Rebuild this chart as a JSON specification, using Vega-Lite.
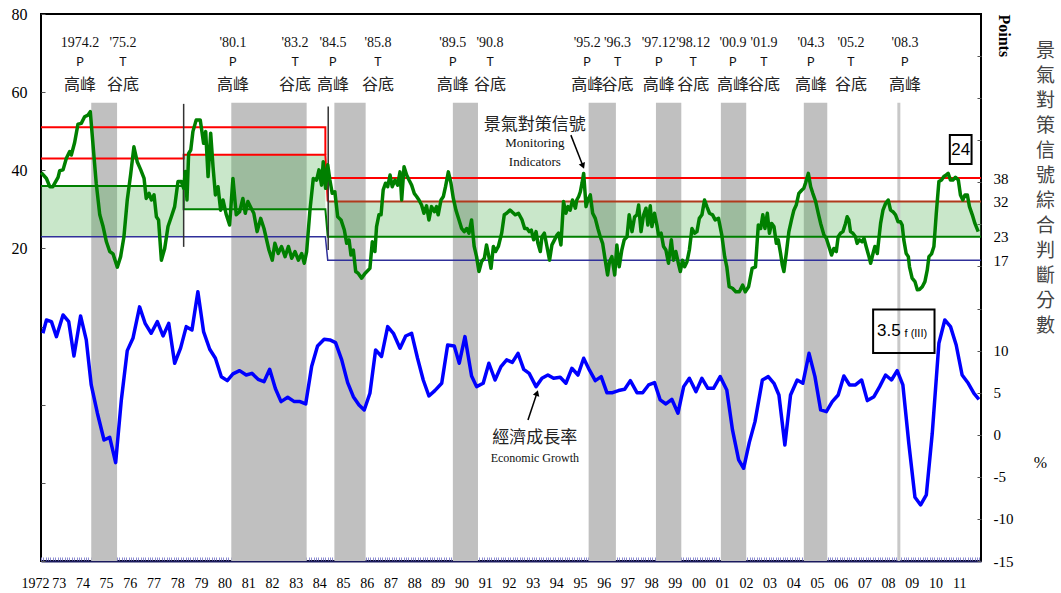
{
"$schema":"https://vega.github.io/schema/vega-lite/v6.json",
"width":940,"height":547,"autosize":"none",
"padding":{"left":41,"top":14,"right":80,"bottom":32},
"background":"#ffffff",
"config":{"view":{"stroke":"#000000","strokeWidth":2},"axis":{"grid":false,"labelFont":"Liberation Serif","labelColor":"#000000","titleFont":"Liberation Serif","titleColor":"#000000","labelOverlap":false}},
"datasets":{
"bands":[{"t":1974.12,"t2":1975.21},{"t":1980.03,"t2":1983.21},{"t":1984.38,"t2":1985.70},{"t":1989.38,"t2":1990.44},{"t":1995.11,"t2":1996.26},{"t":1997.95,"t2":1999.02},{"t":2000.69,"t2":2001.76},{"t":2004.19,"t2":2005.18}],
"marks08":[{"t":2008.2}],
"zones":[{"t":1972,"t2":1978.02,"lo":23,"hi":36},{"t":1978.02,"t2":1984.0,"lo":30,"hi":44},{"t":1984.1,"t2":2011.667,"lo":23,"hi":32}],
"thresholds":[
{"s":"r1","i":0,"t":1972,"v":51},{"s":"r1","i":1,"t":1984.0,"v":51},{"s":"r1","i":2,"t":1984.0,"v":44},
{"s":"r2","i":0,"t":1972,"v":43},{"s":"r2","i":1,"t":1978.02,"v":43},{"s":"r2","i":2,"t":1978.02,"v":44},{"s":"r2","i":3,"t":1984.0,"v":44},{"s":"r2","i":4,"t":1984.1,"v":32},
{"s":"br","i":0,"t":1984.1,"v":32},{"s":"br","i":1,"t":2011.667,"v":32},
{"s":"r3","i":0,"t":1984.2,"v":38},{"s":"r3","i":1,"t":2011.667,"v":38},
{"s":"gr","i":0,"t":1972,"v":36},{"s":"gr","i":1,"t":1978.02,"v":36},{"s":"gr","i":2,"t":1978.02,"v":30},{"s":"gr","i":3,"t":1984.0,"v":30},{"s":"gr","i":4,"t":1984.1,"v":23},{"s":"gr","i":5,"t":2011.667,"v":23},
{"s":"bl","i":0,"t":1972,"v":23},{"s":"bl","i":1,"t":1984.0,"v":23},{"s":"bl","i":2,"t":1984.1,"v":17},{"s":"bl","i":3,"t":2011.667,"v":17}],
"splits":[{"t":1978.02,"top":57,"bot":20.4},{"t":1984.12,"top":56.3,"bot":19.6}],
"signal":[
{"t":1972.01,"v":39.4},{"t":1972.23,"v":37.9},{"t":1972.37,"v":35.8},{"t":1972.5,"v":35.8},{"t":1972.72,"v":38.2},{"t":1972.79,"v":39.9},{"t":1972.93,"v":40.1},{"t":1973.07,"v":43.1},{"t":1973.21,"v":44.8},{"t":1973.28,"v":43.9},{"t":1973.42,"v":47.1},{"t":1973.56,"v":51.8},{"t":1973.7,"v":52.0},{"t":1973.84,"v":53.7},{"t":1973.98,"v":54.1},{"t":1974.08,"v":55.0},{"t":1974.19,"v":46.9},{"t":1974.33,"v":36.7},{"t":1974.48,"v":28.6},{"t":1974.62,"v":25.6},{"t":1974.76,"v":21.7},{"t":1974.9,"v":19.2},{"t":1975.04,"v":18.6},{"t":1975.22,"v":15.2},{"t":1975.36,"v":17.9},{"t":1975.5,"v":23.0},{"t":1975.64,"v":32.4},{"t":1975.78,"v":38.8},{"t":1975.92,"v":46.0},{"t":1976.06,"v":42.2},{"t":1976.21,"v":40.1},{"t":1976.35,"v":37.9},{"t":1976.44,"v":32.8},{"t":1976.56,"v":34.1},{"t":1976.66,"v":32.4},{"t":1976.77,"v":33.7},{"t":1976.87,"v":28.1},{"t":1976.96,"v":27.3},{"t":1977.08,"v":17.0},{"t":1977.22,"v":20.0},{"t":1977.36,"v":25.6},{"t":1977.5,"v":28.1},{"t":1977.64,"v":30.7},{"t":1977.78,"v":37.1},{"t":1977.92,"v":37.1},{"t":1978.02,"v":35.4},{"t":1978.09,"v":39.7},{"t":1978.16,"v":32.4},{"t":1978.23,"v":44.3},{"t":1978.32,"v":45.2},{"t":1978.41,"v":49.9},{"t":1978.55,"v":52.9},{"t":1978.72,"v":52.9},{"t":1978.79,"v":49.9},{"t":1978.86,"v":46.9},{"t":1978.95,"v":49.9},{"t":1979.05,"v":38.4},{"t":1979.16,"v":49.5},{"t":1979.26,"v":40.9},{"t":1979.36,"v":33.7},{"t":1979.47,"v":35.8},{"t":1979.58,"v":29.8},{"t":1979.68,"v":32.4},{"t":1979.82,"v":28.6},{"t":1979.96,"v":26.0},{"t":1980.1,"v":37.9},{"t":1980.24,"v":28.6},{"t":1980.38,"v":29.4},{"t":1980.52,"v":32.8},{"t":1980.62,"v":29.0},{"t":1980.73,"v":32.0},{"t":1980.87,"v":30.3},{"t":1980.98,"v":29.0},{"t":1981.12,"v":24.3},{"t":1981.27,"v":27.7},{"t":1981.41,"v":25.1},{"t":1981.62,"v":19.6},{"t":1981.76,"v":17.0},{"t":1981.87,"v":21.3},{"t":1982.01,"v":18.7},{"t":1982.15,"v":20.5},{"t":1982.3,"v":17.9},{"t":1982.44,"v":20.5},{"t":1982.58,"v":17.5},{"t":1982.72,"v":19.2},{"t":1982.86,"v":17.0},{"t":1983.0,"v":18.7},{"t":1983.11,"v":16.2},{"t":1983.21,"v":19.2},{"t":1983.35,"v":29.8},{"t":1983.49,"v":37.9},{"t":1983.63,"v":37.5},{"t":1983.73,"v":40.1},{"t":1983.84,"v":36.2},{"t":1983.91,"v":42.2},{"t":1984.01,"v":35.4},{"t":1984.1,"v":41.4},{"t":1984.19,"v":37.5},{"t":1984.29,"v":34.1},{"t":1984.4,"v":34.5},{"t":1984.52,"v":28.1},{"t":1984.66,"v":27.3},{"t":1984.8,"v":24.7},{"t":1984.9,"v":21.3},{"t":1985.0,"v":22.2},{"t":1985.08,"v":18.3},{"t":1985.18,"v":19.6},{"t":1985.28,"v":14.1},{"t":1985.39,"v":13.6},{"t":1985.53,"v":12.4},{"t":1985.67,"v":13.6},{"t":1985.88,"v":14.9},{"t":1985.98,"v":21.7},{"t":1986.09,"v":19.2},{"t":1986.16,"v":25.6},{"t":1986.26,"v":28.6},{"t":1986.35,"v":28.6},{"t":1986.44,"v":35.0},{"t":1986.54,"v":36.7},{"t":1986.63,"v":35.8},{"t":1986.73,"v":38.8},{"t":1986.82,"v":35.8},{"t":1986.94,"v":37.5},{"t":1987.05,"v":36.2},{"t":1987.15,"v":39.6},{"t":1987.22,"v":32.4},{"t":1987.32,"v":40.9},{"t":1987.43,"v":38.8},{"t":1987.53,"v":37.5},{"t":1987.64,"v":36.2},{"t":1987.75,"v":34.1},{"t":1987.85,"v":33.3},{"t":1987.95,"v":32.4},{"t":1988.06,"v":31.1},{"t":1988.16,"v":29.0},{"t":1988.27,"v":30.9},{"t":1988.37,"v":27.3},{"t":1988.48,"v":30.7},{"t":1988.6,"v":29.4},{"t":1988.69,"v":30.7},{"t":1988.76,"v":28.6},{"t":1988.88,"v":32.4},{"t":1988.98,"v":33.3},{"t":1989.07,"v":35.8},{"t":1989.19,"v":39.6},{"t":1989.3,"v":36.7},{"t":1989.4,"v":32.8},{"t":1989.51,"v":29.8},{"t":1989.64,"v":27.3},{"t":1989.75,"v":25.1},{"t":1989.86,"v":24.3},{"t":1989.96,"v":25.1},{"t":1990.06,"v":23.9},{"t":1990.17,"v":27.3},{"t":1990.28,"v":20.5},{"t":1990.38,"v":17.9},{"t":1990.48,"v":14.1},{"t":1990.59,"v":16.6},{"t":1990.71,"v":17.5},{"t":1990.8,"v":20.9},{"t":1990.9,"v":17.9},{"t":1990.99,"v":14.9},{"t":1991.09,"v":20.5},{"t":1991.18,"v":19.2},{"t":1991.3,"v":20.5},{"t":1991.44,"v":23.9},{"t":1991.55,"v":28.6},{"t":1991.65,"v":29.0},{"t":1991.79,"v":29.8},{"t":1991.87,"v":29.4},{"t":1992.01,"v":28.6},{"t":1992.15,"v":29.0},{"t":1992.3,"v":27.3},{"t":1992.41,"v":25.1},{"t":1992.51,"v":25.1},{"t":1992.6,"v":24.3},{"t":1992.69,"v":24.7},{"t":1992.79,"v":22.2},{"t":1992.89,"v":24.3},{"t":1992.97,"v":21.3},{"t":1993.07,"v":19.2},{"t":1993.14,"v":23.0},{"t":1993.24,"v":23.9},{"t":1993.35,"v":20.5},{"t":1993.46,"v":17.0},{"t":1993.56,"v":20.9},{"t":1993.67,"v":22.2},{"t":1993.77,"v":23.4},{"t":1993.84,"v":23.9},{"t":1993.94,"v":20.9},{"t":1994.05,"v":32.0},{"t":1994.15,"v":29.0},{"t":1994.24,"v":30.7},{"t":1994.33,"v":29.8},{"t":1994.43,"v":32.4},{"t":1994.55,"v":30.3},{"t":1994.61,"v":32.4},{"t":1994.69,"v":33.3},{"t":1994.76,"v":34.5},{"t":1994.83,"v":36.7},{"t":1994.9,"v":39.2},{"t":1995.0,"v":30.7},{"t":1995.08,"v":32.4},{"t":1995.18,"v":33.7},{"t":1995.28,"v":29.0},{"t":1995.39,"v":27.7},{"t":1995.5,"v":25.1},{"t":1995.6,"v":23.0},{"t":1995.7,"v":21.3},{"t":1995.81,"v":17.0},{"t":1995.91,"v":13.2},{"t":1995.99,"v":16.6},{"t":1996.09,"v":17.9},{"t":1996.21,"v":13.2},{"t":1996.3,"v":20.9},{"t":1996.4,"v":15.3},{"t":1996.51,"v":19.6},{"t":1996.61,"v":22.2},{"t":1996.73,"v":23.0},{"t":1996.82,"v":28.6},{"t":1996.94,"v":24.3},{"t":1997.05,"v":28.1},{"t":1997.15,"v":28.6},{"t":1997.22,"v":31.1},{"t":1997.32,"v":24.3},{"t":1997.43,"v":28.6},{"t":1997.53,"v":30.3},{"t":1997.61,"v":26.0},{"t":1997.71,"v":30.9},{"t":1997.78,"v":25.6},{"t":1997.89,"v":29.0},{"t":1997.99,"v":26.0},{"t":1998.06,"v":23.4},{"t":1998.17,"v":23.9},{"t":1998.27,"v":20.5},{"t":1998.37,"v":19.6},{"t":1998.48,"v":16.2},{"t":1998.6,"v":22.2},{"t":1998.69,"v":17.0},{"t":1998.79,"v":19.2},{"t":1998.91,"v":15.8},{"t":1998.98,"v":14.1},{"t":1999.07,"v":17.0},{"t":1999.16,"v":15.3},{"t":1999.26,"v":16.6},{"t":1999.36,"v":19.6},{"t":1999.47,"v":25.1},{"t":1999.58,"v":23.9},{"t":1999.68,"v":24.3},{"t":1999.78,"v":27.7},{"t":1999.89,"v":28.6},{"t":2000.0,"v":32.4},{"t":2000.1,"v":30.7},{"t":2000.21,"v":29.0},{"t":2000.34,"v":28.6},{"t":2000.45,"v":27.3},{"t":2000.59,"v":27.7},{"t":2000.73,"v":23.4},{"t":2000.85,"v":17.9},{"t":2000.94,"v":15.3},{"t":2001.04,"v":10.2},{"t":2001.18,"v":9.8},{"t":2001.32,"v":8.9},{"t":2001.47,"v":8.9},{"t":2001.61,"v":10.6},{"t":2001.72,"v":8.9},{"t":2001.86,"v":10.2},{"t":2002.01,"v":14.9},{"t":2002.15,"v":15.3},{"t":2002.27,"v":26.0},{"t":2002.37,"v":25.1},{"t":2002.46,"v":28.6},{"t":2002.55,"v":25.1},{"t":2002.65,"v":29.0},{"t":2002.74,"v":23.9},{"t":2002.83,"v":26.4},{"t":2002.93,"v":25.6},{"t":2003.03,"v":21.3},{"t":2003.11,"v":22.2},{"t":2003.21,"v":18.7},{"t":2003.28,"v":15.8},{"t":2003.35,"v":14.1},{"t":2003.45,"v":18.7},{"t":2003.56,"v":24.3},{"t":2003.67,"v":27.3},{"t":2003.77,"v":29.8},{"t":2003.87,"v":31.1},{"t":2003.98,"v":34.1},{"t":2004.1,"v":34.9},{"t":2004.19,"v":35.4},{"t":2004.26,"v":36.7},{"t":2004.38,"v":39.2},{"t":2004.48,"v":35.8},{"t":2004.57,"v":34.1},{"t":2004.69,"v":32.0},{"t":2004.8,"v":29.0},{"t":2004.9,"v":26.4},{"t":2005.04,"v":23.4},{"t":2005.14,"v":22.6},{"t":2005.25,"v":20.5},{"t":2005.36,"v":18.3},{"t":2005.46,"v":20.0},{"t":2005.56,"v":19.2},{"t":2005.64,"v":23.0},{"t":2005.74,"v":23.9},{"t":2005.84,"v":24.3},{"t":2005.95,"v":26.4},{"t":2006.02,"v":28.1},{"t":2006.09,"v":27.3},{"t":2006.16,"v":24.3},{"t":2006.26,"v":23.9},{"t":2006.37,"v":23.0},{"t":2006.44,"v":21.3},{"t":2006.54,"v":22.2},{"t":2006.65,"v":21.7},{"t":2006.73,"v":22.6},{"t":2006.82,"v":20.5},{"t":2006.94,"v":17.9},{"t":2007.01,"v":16.2},{"t":2007.11,"v":18.7},{"t":2007.19,"v":20.5},{"t":2007.29,"v":18.7},{"t":2007.36,"v":22.6},{"t":2007.43,"v":26.4},{"t":2007.53,"v":29.8},{"t":2007.64,"v":31.5},{"t":2007.75,"v":32.4},{"t":2007.85,"v":29.8},{"t":2007.95,"v":29.4},{"t":2008.06,"v":28.6},{"t":2008.17,"v":26.8},{"t":2008.27,"v":26.8},{"t":2008.34,"v":26.0},{"t":2008.41,"v":22.2},{"t":2008.51,"v":18.7},{"t":2008.6,"v":17.9},{"t":2008.65,"v":15.3},{"t":2008.76,"v":12.4},{"t":2008.88,"v":11.5},{"t":2008.98,"v":9.4},{"t":2009.07,"v":9.5},{"t":2009.19,"v":10.2},{"t":2009.3,"v":11.5},{"t":2009.4,"v":14.5},{"t":2009.47,"v":17.9},{"t":2009.58,"v":18.6},{"t":2009.68,"v":20.5},{"t":2009.78,"v":29.0},{"t":2009.89,"v":37.1},{"t":2010.0,"v":37.5},{"t":2010.1,"v":38.4},{"t":2010.2,"v":38.8},{"t":2010.28,"v":39.2},{"t":2010.38,"v":37.5},{"t":2010.48,"v":37.5},{"t":2010.59,"v":38.2},{"t":2010.71,"v":37.5},{"t":2010.8,"v":33.7},{"t":2010.9,"v":32.4},{"t":2010.99,"v":33.7},{"t":2011.09,"v":33.7},{"t":2011.18,"v":30.7},{"t":2011.3,"v":28.6},{"t":2011.41,"v":26.4},{"t":2011.55,"v":24.3}],
"growth":[
{"t":1972.08,"v":12.06},{"t":1972.23,"v":13.64},{"t":1972.44,"v":13.44},{"t":1972.65,"v":11.66},{"t":1972.93,"v":14.24},{"t":1973.17,"v":13.44},{"t":1973.39,"v":9.36},{"t":1973.67,"v":14.12},{"t":1973.91,"v":11.27},{"t":1974.12,"v":5.92},{"t":1974.38,"v":2.56},{"t":1974.66,"v":-0.62},{"t":1974.9,"v":-0.3},{"t":1975.15,"v":-3.31},{"t":1975.39,"v":4.14},{"t":1975.64,"v":10.0},{"t":1975.88,"v":11.46},{"t":1976.16,"v":15.2},{"t":1976.4,"v":13.2},{"t":1976.65,"v":12.06},{"t":1976.91,"v":13.44},{"t":1977.15,"v":11.74},{"t":1977.39,"v":13.24},{"t":1977.64,"v":8.5},{"t":1977.89,"v":10.3},{"t":1978.13,"v":12.85},{"t":1978.37,"v":12.45},{"t":1978.62,"v":17.0},{"t":1978.86,"v":12.26},{"t":1979.12,"v":10.16},{"t":1979.36,"v":9.09},{"t":1979.61,"v":6.9},{"t":1979.86,"v":6.43},{"t":1980.1,"v":7.23},{"t":1980.38,"v":7.62},{"t":1980.66,"v":7.1},{"t":1980.9,"v":7.3},{"t":1981.16,"v":6.59},{"t":1981.41,"v":6.31},{"t":1981.65,"v":7.78},{"t":1981.89,"v":5.5},{"t":1982.13,"v":3.94},{"t":1982.41,"v":4.45},{"t":1982.69,"v":3.94},{"t":1982.93,"v":3.94},{"t":1983.17,"v":3.66},{"t":1983.42,"v":8.1},{"t":1983.67,"v":10.55},{"t":1983.95,"v":11.35},{"t":1984.19,"v":11.27},{"t":1984.43,"v":10.95},{"t":1984.69,"v":8.9},{"t":1984.94,"v":6.2},{"t":1985.18,"v":4.53},{"t":1985.42,"v":3.54},{"t":1985.64,"v":2.95},{"t":1985.88,"v":4.93},{"t":1986.12,"v":10.08},{"t":1986.37,"v":9.3},{"t":1986.63,"v":12.85},{"t":1986.87,"v":12.06},{"t":1987.15,"v":10.28},{"t":1987.39,"v":11.74},{"t":1987.64,"v":12.06},{"t":1987.89,"v":9.09},{"t":1988.13,"v":6.51},{"t":1988.37,"v":4.61},{"t":1988.62,"v":5.25},{"t":1988.91,"v":6.12},{"t":1989.16,"v":10.67},{"t":1989.44,"v":10.55},{"t":1989.65,"v":8.5},{"t":1989.89,"v":11.66},{"t":1990.17,"v":6.99},{"t":1990.38,"v":5.72},{"t":1990.66,"v":6.12},{"t":1990.9,"v":8.5},{"t":1991.16,"v":6.51},{"t":1991.41,"v":8.1},{"t":1991.65,"v":8.9},{"t":1991.89,"v":8.6},{"t":1992.13,"v":9.68},{"t":1992.37,"v":7.78},{"t":1992.6,"v":7.3},{"t":1992.89,"v":5.72},{"t":1993.14,"v":6.71},{"t":1993.39,"v":7.1},{"t":1993.63,"v":6.71},{"t":1993.91,"v":6.83},{"t":1994.15,"v":6.12},{"t":1994.4,"v":7.9},{"t":1994.66,"v":7.1},{"t":1994.9,"v":9.09},{"t":1995.14,"v":7.7},{"t":1995.39,"v":6.43},{"t":1995.64,"v":6.91},{"t":1995.88,"v":5.0},{"t":1996.12,"v":5.0},{"t":1996.37,"v":5.25},{"t":1996.63,"v":5.4},{"t":1996.87,"v":6.43},{"t":1997.15,"v":5.0},{"t":1997.39,"v":5.0},{"t":1997.64,"v":5.92},{"t":1997.89,"v":6.2},{"t":1998.13,"v":4.14},{"t":1998.37,"v":3.66},{"t":1998.62,"v":4.22},{"t":1998.88,"v":2.56},{"t":1999.12,"v":5.72},{"t":1999.36,"v":6.71},{"t":1999.64,"v":5.13},{"t":1999.89,"v":6.71},{"t":2000.14,"v":5.52},{"t":2000.38,"v":5.52},{"t":2000.66,"v":6.91},{"t":2000.94,"v":5.33},{"t":2001.18,"v":0.57},{"t":2001.44,"v":-2.99},{"t":2001.65,"v":-3.98},{"t":2001.89,"v":-0.9},{"t":2002.13,"v":1.56},{"t":2002.44,"v":6.51},{"t":2002.69,"v":6.91},{"t":2002.93,"v":6.12},{"t":2003.14,"v":4.73},{"t":2003.39,"v":-1.21},{"t":2003.63,"v":4.73},{"t":2003.91,"v":6.51},{"t":2004.15,"v":6.12},{"t":2004.41,"v":9.68},{"t":2004.66,"v":6.91},{"t":2004.9,"v":2.95},{"t":2005.14,"v":2.75},{"t":2005.39,"v":3.94},{"t":2005.64,"v":4.73},{"t":2005.88,"v":6.99},{"t":2006.12,"v":5.92},{"t":2006.37,"v":5.92},{"t":2006.63,"v":6.51},{"t":2006.87,"v":4.06},{"t":2007.15,"v":4.53},{"t":2007.39,"v":5.72},{"t":2007.64,"v":7.1},{"t":2007.89,"v":6.51},{"t":2008.13,"v":7.62},{"t":2008.37,"v":5.92},{"t":2008.62,"v":-1.01},{"t":2008.88,"v":-7.43},{"t":2009.12,"v":-8.34},{"t":2009.36,"v":-7.15},{"t":2009.61,"v":0.18},{"t":2009.89,"v":10.87},{"t":2010.14,"v":13.64},{"t":2010.38,"v":12.85},{"t":2010.62,"v":10.67},{"t":2010.87,"v":7.1},{"t":2011.13,"v":6.12},{"t":2011.37,"v":4.93},{"t":2011.58,"v":4.22}],
"turns":[
{"t":1973.65,"d":"1974.2","pt":"P","zh":"高峰"},{"t":1975.46,"d":"'75.2","pt":"T","zh":"谷底"},{"t":1980.10,"d":"'80.1","pt":"P","zh":"高峰"},{"t":1982.72,"d":"'83.2","pt":"T","zh":"谷底"},{"t":1984.32,"d":"'84.5","pt":"P","zh":"高峰"},{"t":1986.22,"d":"'85.8","pt":"T","zh":"谷底"},{"t":1989.38,"d":"'89.5","pt":"P","zh":"高峰"},{"t":1990.95,"d":"'90.8","pt":"T","zh":"谷底"},{"t":1995.05,"d":"'95.2","pt":"P","zh":"高峰"},{"t":1996.33,"d":"'96.3","pt":"T","zh":"谷底"},{"t":1998.07,"d":"'97.12","pt":"P","zh":"高峰"},{"t":1999.52,"d":"'98.12","pt":"T","zh":"谷底"},{"t":2001.20,"d":"'00.9","pt":"P","zh":"高峰"},{"t":2002.51,"d":"'01.9","pt":"T","zh":"谷底"},{"t":2004.49,"d":"'04.3","pt":"P","zh":"高峰"},{"t":2006.18,"d":"'05.2","pt":"T","zh":"谷底"},{"t":2008.46,"d":"'08.3","pt":"P","zh":"高峰"}],
"notes":[
{"k":"sz","t":1992.84,"v":51.6,"text":"景氣對策信號"},{"k":"se","t":1992.84,"v":47.0,"text":"Monitoring"},{"k":"se","t":1992.84,"v":42.1,"text":"Indicators"},{"k":"box24","t":2010.81,"v":45.3,"text":"24"},
{"k":"gz","t":1992.84,"v":-0.38,"text":"經濟成長率"},{"k":"ge","t":1992.84,"v":-2.76,"text":"Economic Growth"},{"k":"box35","t":2008.41,"v":12.3,"text":"3.5"},{"k":"f","t":2008.41,"v":12.3,"text":"f (III)"}],
"arrows":[{"k":"sig","t":1994.36,"v":49.0,"t2":1994.87,"v2":41.1},{"k":"gdp","t":1992.55,"v":1.76,"t2":1992.93,"v2":4.96}]
},
"resolve":{"scale":{"y":"independent"}},
"layer":[
{"layer":[
 {"data":{"name":"bands"},"mark":{"type":"rect","color":"#c0c0c0"},
  "encoding":{
   "x":{"field":"t","type":"quantitative","scale":{"domain":[1972,2011.667],"nice":false,"zero":false},
     "axis":{"orient":"bottom","tickCount":400,"labelExpr":"abs(datum.value - round(datum.value)) < 0.01 ? (round(datum.value) == 1972 ? '1972' : substring(toString(round(datum.value)), 2, 4)) : ''","tickSize":-4,"tickColor":"#8c8cd0","domainColor":"#1a1a5e","domainWidth":2,"labelPadding":19,"labelFontSize":14,"labelOffset":-6,"labelFlush":false,"labelOverlap":false,"labelBound":false,"title":null}},
   "x2":{"field":"t2"},
   "y":{"datum":57.3,"type":"quantitative","scale":{"domain":[-60,80],"nice":false,"zero":false}},
   "y2":{"datum":-60}}},
 {"data":{"name":"zones"},"mark":{"type":"rect","color":"#4caf50","opacity":0.3},
  "encoding":{
   "x":{"field":"t","type":"quantitative","scale":{"domain":[1972,2011.667],"nice":false,"zero":false}},
   "x2":{"field":"t2"},
   "y":{"field":"hi","type":"quantitative","scale":{"domain":[-60,80],"nice":false,"zero":false},
     "axis":{"orient":"left","values":[-60,-50,-40,-30,-20,-10,0,10,20,30,40,50,60,70,80],"labelExpr":"datum.value >= 20 && datum.value % 20 == 0 ? toString(datum.value) : ''","tickSize":-4,"tickColor":"#555555","domain":false,"labelPadding":18,"labelFontSize":16,"title":["景","氣","對","策","信","號","綜","合","判","斷","分","數"],"titleX":1004,"titleY":27,"titleAngle":0,"titleAlign":"center","titleBaseline":"top","titleLineHeight":25,"titleFont":"Noto Sans CJK TC","titleFontSize":19,"titleFontWeight":"normal","titleColor":"#444444"}},
   "y2":{"field":"lo"}}},
 {"data":{"name":"marks08"},"mark":{"type":"rule","color":"#c8c8c8","strokeWidth":3},
  "encoding":{
   "x":{"field":"t","type":"quantitative","scale":{"domain":[1972,2011.667],"nice":false,"zero":false}},
   "y":{"datum":57.3,"type":"quantitative","scale":{"domain":[-60,80],"nice":false,"zero":false}},
   "y2":{"datum":-60}}}
]},
{"layer":[
 {"data":{"name":"thresholds"},"transform":[{"filter":"datum.s != 'bl'"}],"mark":{"type":"line","strokeWidth":2},
  "encoding":{
   "x":{"field":"t","type":"quantitative","scale":{"domain":[1972,2011.667],"nice":false,"zero":false}},
   "y":{"field":"v","type":"quantitative","scale":{"domain":[-60,80],"nice":false,"zero":false},
     "axis":{"orient":"right","values":[38,32,23,17],"ticks":false,"domain":false,"labelPadding":12,"labelFontSize":15,"labelOverlap":false,"title":"Points","titleAngle":90,"titleX":22,"titleY":0,"titleAlign":"left","titleBaseline":"middle","titleFontSize":16,"titleFontWeight":"bold"}},
   "color":{"field":"s","type":"nominal","scale":{"domain":["r1","r2","br","r3","gr"],"range":["#ff0000","#ff0000","#b03a1c","#ff0000","#008000"]},"legend":null},
   "order":{"field":"i","type":"quantitative"}}},
 {"data":{"name":"thresholds"},"transform":[{"filter":"datum.s == 'bl'"}],"mark":{"type":"line","strokeWidth":1.5,"color":"#30309a"},
  "encoding":{
   "x":{"field":"t","type":"quantitative","scale":{"domain":[1972,2011.667],"nice":false,"zero":false}},
   "y":{"field":"v","type":"quantitative","scale":{"domain":[-60,80],"nice":false,"zero":false}},
   "order":{"field":"i","type":"quantitative"}}},
 {"data":{"name":"splits"},"mark":{"type":"rule","color":"#333333","strokeWidth":1.5},
  "encoding":{
   "x":{"field":"t","type":"quantitative","scale":{"domain":[1972,2011.667],"nice":false,"zero":false}},
   "y":{"field":"top","type":"quantitative","scale":{"domain":[-60,80],"nice":false,"zero":false}},
   "y2":{"field":"bot"}}},
 {"data":{"name":"signal"},"mark":{"type":"line","color":"#008000","strokeWidth":3.5,"strokeJoin":"round"},
  "encoding":{
   "x":{"field":"t","type":"quantitative","scale":{"domain":[1972,2011.667],"nice":false,"zero":false}},
   "y":{"field":"v","type":"quantitative","scale":{"domain":[-60,80],"nice":false,"zero":false}}}},
 {"data":{"name":"turns"},"mark":{"type":"text","font":"Liberation Serif","fontSize":14,"color":"#111111"},
  "encoding":{
   "x":{"field":"t","type":"quantitative","scale":{"domain":[1972,2011.667],"nice":false,"zero":false}},
   "y":{"datum":72.5,"type":"quantitative","scale":{"domain":[-60,80],"nice":false,"zero":false}},
   "text":{"field":"d"}}},
 {"data":{"name":"turns"},"mark":{"type":"text","font":"Liberation Mono","fontSize":13,"color":"#111111"},
  "encoding":{
   "x":{"field":"t","type":"quantitative","scale":{"domain":[1972,2011.667],"nice":false,"zero":false}},
   "y":{"datum":67.8,"type":"quantitative","scale":{"domain":[-60,80],"nice":false,"zero":false}},
   "text":{"field":"pt"}}},
 {"data":{"name":"turns"},"mark":{"type":"text","font":"Noto Sans CJK TC","fontSize":16,"color":"#222222"},
  "encoding":{
   "x":{"field":"t","type":"quantitative","scale":{"domain":[1972,2011.667],"nice":false,"zero":false}},
   "y":{"datum":61.8,"type":"quantitative","scale":{"domain":[-60,80],"nice":false,"zero":false}},
   "text":{"field":"zh"}}},
 {"data":{"name":"notes"},"transform":[{"filter":"datum.k == 'sz'"}],"mark":{"type":"text","font":"Noto Sans CJK TC","fontSize":17,"color":"#222222"},
  "encoding":{
   "x":{"field":"t","type":"quantitative","scale":{"domain":[1972,2011.667],"nice":false,"zero":false}},
   "y":{"field":"v","type":"quantitative","scale":{"domain":[-60,80],"nice":false,"zero":false}},
   "text":{"field":"text"}}},
 {"data":{"name":"notes"},"transform":[{"filter":"datum.k == 'se'"}],"mark":{"type":"text","font":"Liberation Serif","fontSize":13,"color":"#111111"},
  "encoding":{
   "x":{"field":"t","type":"quantitative","scale":{"domain":[1972,2011.667],"nice":false,"zero":false}},
   "y":{"field":"v","type":"quantitative","scale":{"domain":[-60,80],"nice":false,"zero":false}},
   "text":{"field":"text"}}},
 {"data":{"name":"notes"},"transform":[{"filter":"datum.k == 'box24'"}],"mark":{"type":"text","font":"Liberation Sans","fontSize":17,"color":"#000000"},
  "encoding":{
   "x":{"field":"t","type":"quantitative","scale":{"domain":[1972,2011.667],"nice":false,"zero":false}},
   "y":{"field":"v","type":"quantitative","scale":{"domain":[-60,80],"nice":false,"zero":false}},
   "text":{"field":"text"}}},
 {"data":{"name":"notes"},"transform":[{"filter":"datum.k == 'box24'"}],"mark":{"type":"point","shape":"M-0.75,-1H0.75V1H-0.75Z","size":841,"filled":false,"stroke":"#000000","strokeWidth":2,"opacity":1},
  "encoding":{
   "x":{"field":"t","type":"quantitative","scale":{"domain":[1972,2011.667],"nice":false,"zero":false}},
   "y":{"field":"v","type":"quantitative","scale":{"domain":[-60,80],"nice":false,"zero":false}}}},
 {"data":{"name":"arrows"},"transform":[{"filter":"datum.k == 'sig'"}],"mark":{"type":"rule","color":"#000000","strokeWidth":1.5},
  "encoding":{
   "x":{"field":"t","type":"quantitative","scale":{"domain":[1972,2011.667],"nice":false,"zero":false}},
   "x2":{"field":"t2"},
   "y":{"field":"v","type":"quantitative","scale":{"domain":[-60,80],"nice":false,"zero":false}},
   "y2":{"field":"v2"}}},
 {"data":{"name":"arrows"},"transform":[{"filter":"datum.k == 'sig'"}],"mark":{"type":"point","shape":"triangle-up","size":45,"filled":true,"color":"#000000","opacity":1,"angle":158},
  "encoding":{
   "x":{"field":"t2","type":"quantitative","scale":{"domain":[1972,2011.667],"nice":false,"zero":false}},
   "y":{"field":"v2","type":"quantitative","scale":{"domain":[-60,80],"nice":false,"zero":false}}}}
]},
{"layer":[
 {"data":{"name":"growth"},"mark":{"type":"line","color":"#0000ff","strokeWidth":3.5,"strokeJoin":"round"},
  "encoding":{
   "x":{"field":"t","type":"quantitative","scale":{"domain":[1972,2011.667],"nice":false,"zero":false}},
   "y":{"field":"v","type":"quantitative","scale":{"domain":[-15,50],"nice":false,"zero":false},
     "axis":{"orient":"right","values":[-15,-10,-5,0,5,10,15,20,25,30,35,40,45],"labelExpr":"datum.value <= 10 ? toString(datum.value) : ''","tickSize":-4,"tickColor":"#555555","domain":false,"labelPadding":16,"labelFontSize":15,"labelOverlap":false,"title":"%","titleX":59,"titleY":448,"titleAngle":0,"titleAlign":"center","titleBaseline":"middle","titleFontSize":16,"titleFontWeight":"normal"}}}},
 {"data":{"name":"notes"},"transform":[{"filter":"datum.k == 'gz'"}],"mark":{"type":"text","font":"Noto Sans CJK TC","fontSize":17,"color":"#222222"},
  "encoding":{
   "x":{"field":"t","type":"quantitative","scale":{"domain":[1972,2011.667],"nice":false,"zero":false}},
   "y":{"field":"v","type":"quantitative","scale":{"domain":[-15,50],"nice":false,"zero":false}},
   "text":{"field":"text"}}},
 {"data":{"name":"notes"},"transform":[{"filter":"datum.k == 'ge'"}],"mark":{"type":"text","font":"Liberation Serif","fontSize":12,"color":"#111111"},
  "encoding":{
   "x":{"field":"t","type":"quantitative","scale":{"domain":[1972,2011.667],"nice":false,"zero":false}},
   "y":{"field":"v","type":"quantitative","scale":{"domain":[-15,50],"nice":false,"zero":false}},
   "text":{"field":"text"}}},
 {"data":{"name":"notes"},"transform":[{"filter":"datum.k == 'box35'"}],"mark":{"type":"text","font":"Liberation Sans","fontSize":17,"color":"#000000","dx":-15},
  "encoding":{
   "x":{"field":"t","type":"quantitative","scale":{"domain":[1972,2011.667],"nice":false,"zero":false}},
   "y":{"field":"v","type":"quantitative","scale":{"domain":[-15,50],"nice":false,"zero":false}},
   "text":{"field":"text"}}},
 {"data":{"name":"notes"},"transform":[{"filter":"datum.k == 'f'"}],"mark":{"type":"text","font":"Liberation Sans","fontSize":11,"color":"#000000","dx":12,"dy":3},
  "encoding":{
   "x":{"field":"t","type":"quantitative","scale":{"domain":[1972,2011.667],"nice":false,"zero":false}},
   "y":{"field":"v","type":"quantitative","scale":{"domain":[-15,50],"nice":false,"zero":false}},
   "text":{"field":"text"}}},
 {"data":{"name":"notes"},"transform":[{"filter":"datum.k == 'box35'"}],"mark":{"type":"point","shape":"M-1,-0.71H1V0.71H-1Z","size":3770,"filled":false,"stroke":"#000000","strokeWidth":2,"opacity":1},
  "encoding":{
   "x":{"field":"t","type":"quantitative","scale":{"domain":[1972,2011.667],"nice":false,"zero":false}},
   "y":{"field":"v","type":"quantitative","scale":{"domain":[-15,50],"nice":false,"zero":false}}}},
 {"data":{"name":"arrows"},"transform":[{"filter":"datum.k == 'gdp'"}],"mark":{"type":"rule","color":"#000000","strokeWidth":1.5},
  "encoding":{
   "x":{"field":"t","type":"quantitative","scale":{"domain":[1972,2011.667],"nice":false,"zero":false}},
   "x2":{"field":"t2"},
   "y":{"field":"v","type":"quantitative","scale":{"domain":[-15,50],"nice":false,"zero":false}},
   "y2":{"field":"v2"}}},
 {"data":{"name":"arrows"},"transform":[{"filter":"datum.k == 'gdp'"}],"mark":{"type":"point","shape":"triangle-up","size":45,"filled":true,"color":"#000000","opacity":1,"angle":18},
  "encoding":{
   "x":{"field":"t2","type":"quantitative","scale":{"domain":[1972,2011.667],"nice":false,"zero":false}},
   "y":{"field":"v2","type":"quantitative","scale":{"domain":[-15,50],"nice":false,"zero":false}}}}
]}
]
}
